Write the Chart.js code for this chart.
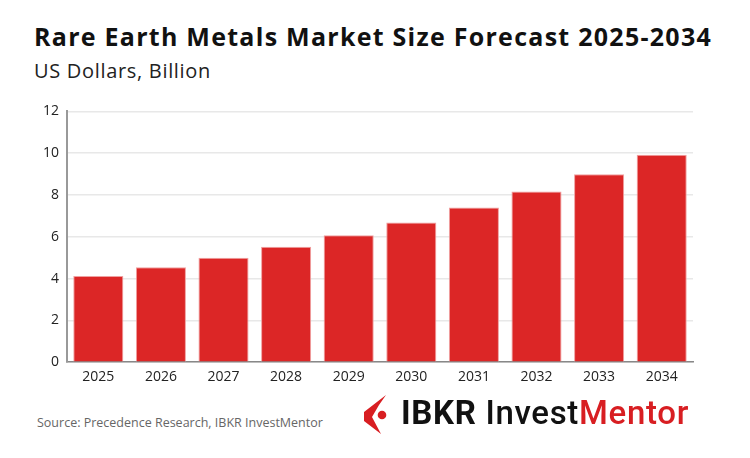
<!DOCTYPE html>
<html>
<head>
<meta charset="utf-8">
<script src="https://cdn.jsdelivr.net/npm/chart.js@4.4.1/dist/chart.umd.min.js"></script>
<style>
  html, body { margin:0; padding:0; background:#fff; width:750px; height:458px; overflow:hidden; }
  #title { position:absolute; left:34px; top:19px; font:bold 25px "Open Sans", sans-serif; color:#111; white-space:nowrap; }
  #subtitle { position:absolute; left:34px; top:57px; font:20px "Open Sans", sans-serif; color:#222; white-space:nowrap; }
  #wrap { position:absolute; left:0; top:95px; width:715px; height:300px; }
  #source { position:absolute; left:37px; top:414px; font:12.5px "Open Sans", sans-serif; color:#666; white-space:nowrap; }
  #icon { position:absolute; left:360px; top:390px; }
  #logotext { position:absolute; left:401px; top:393px; font:bold 33px Roboto, sans-serif; color:#111; white-space:nowrap; }
  #logotext .i { font-weight:500; }
  #logotext .m { color:#d81e22; font-weight:500; }
</style>
</head>
<body>
<div id="title">Rare Earth Metals Market Size Forecast 2025-2034</div>
<div id="subtitle">US Dollars, Billion</div>
<div id="wrap"><canvas id="c"></canvas></div>
<div id="source">Source: Precedence Research, IBKR InvestMentor</div>
<svg id="icon" width="32" height="46" viewBox="0 0 32 46">
  <path d="M26,5 L4,22 L4,31 L21,44 L12,27 L19,15 Z" fill="#d81e22"/>
  <circle cx="22" cy="25" r="4.3" fill="#d81e22"/>
</svg>
<div id="logotext">IBKR <span class="i">Invest</span><span class="m">Mentor</span></div>
<script>
const categories = ["2025","2026","2027","2028","2029","2030","2031","2032","2033","2034"];
const marketSize = [4.12, 4.54, 5.00, 5.52, 6.07, 6.69, 7.40, 8.17, 8.99, 9.92];
const yTicks = [0, 2, 4, 6, 8, 10, 12];

function fitWidth(id, target) {
  const el = document.getElementById(id);
  const n = el.textContent.length;
  const w = el.getBoundingClientRect().width;
  el.style.letterSpacing = ((target - w) / n) + 'px';
}
fitWidth('title', 678);
fitWidth('subtitle', 177);
fitWidth('logotext', 288);

new Chart(document.getElementById('c'), {
  type: 'bar',
  data: {
    labels: categories,
    datasets: [{
      label: 'Market Size',
      data: marketSize,
      backgroundColor: '#dc2626',
      borderColor: '#f0a0a0',
      borderWidth: 1,
      barPercentage: 0.8,
      categoryPercentage: 1.0
    }]
  },
  options: {
    responsive: true,
    maintainAspectRatio: false,
    animation: false,
    layout: { padding: { left: 35, right: 22, top: 12, bottom: 4 } },
    plugins: { legend: { display: false }, tooltip: { enabled: false } },
    scales: {
      x: {
        grid: { display: false, drawTicks: false },
        border: { display: true, color: '#888', width: 1.5 },
        ticks: { color: '#222', font: { family: 'Open Sans', size: 14 }, padding: 6 }
      },
      y: {
        min: 0, max: 12,
        afterBuildTicks: (axis) => { axis.ticks = yTicks.map(v => ({ value: v })); },
        grid: { color: '#e8e8e8', drawTicks: false, lineWidth: 1.5 },
        border: { display: true, color: '#999', width: 2 },
        ticks: { color: '#222', font: { family: 'Open Sans', size: 14 }, padding: 8 }
      }
    }
  }
});
</script>
</body>
</html>
